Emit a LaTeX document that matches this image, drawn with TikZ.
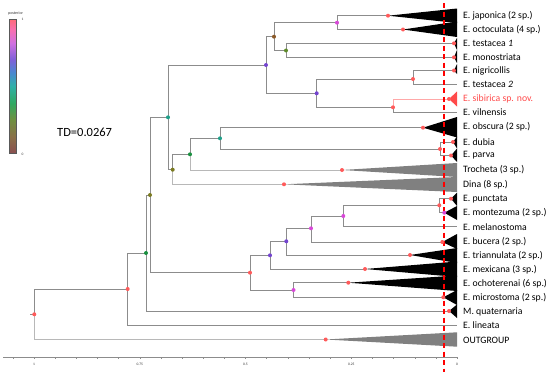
\documentclass[tikz,border=0pt]{standalone}
\usepackage{fontspec}
\setmainfont{Carlito}
\definecolor{pRed}{HTML}{FF5A5A}
\definecolor{pMag}{HTML}{D848D8}
\definecolor{pPur}{HTML}{7444D0}
\definecolor{pBrn}{HTML}{8B5A28}
\definecolor{pOlv}{HTML}{7A7A20}
\definecolor{pOlg}{HTML}{5E8A2A}
\definecolor{pTeal}{HTML}{1FA08A}
\definecolor{pGrn}{HTML}{1A9040}
\definecolor{brGray}{HTML}{8C8C8C}
\definecolor{brLight}{HTML}{B8B8B8}
\definecolor{sibRed}{HTML}{FF4A4A}
\definecolor{sibLine}{HTML}{FFA8A8}
\definecolor{cladeGray}{HTML}{808080}
\definecolor{cbA}{HTML}{8A5050}
\definecolor{cbB}{HTML}{8A7048}
\definecolor{cbC}{HTML}{6E9040}
\definecolor{cbD}{HTML}{30A860}
\definecolor{cbE}{HTML}{30B0A8}
\definecolor{cbF}{HTML}{4A88D0}
\definecolor{cbG}{HTML}{8060D8}
\definecolor{cbH}{HTML}{D070E0}
\definecolor{cbI}{HTML}{F870B0}
\definecolor{cbJ}{HTML}{FF6A78}
\pgfdeclareverticalshading{postshade}{100bp}{color(0bp)=(cbA); color(25bp)=(cbA); color(31bp)=(cbB); color(37.5bp)=(cbC); color(43.5bp)=(cbD); color(50bp)=(cbE); color(55bp)=(cbF); color(60bp)=(cbG); color(66bp)=(cbH); color(71bp)=(cbI); color(75bp)=(cbJ); color(100bp)=(cbJ)}
\tikzset{
  br/.style={draw=brGray, line width=0.9pt},
  brl/.style={draw=brLight, line width=0.9pt},
  lbl/.style={anchor=west, inner sep=0pt, font=\fontsize{9.75}{11}\selectfont},
  tinytxt/.style={inner sep=0pt, font=\fontsize{3.6}{4}\selectfont, text=black!80},
}
\begin{document}
\begin{tikzpicture}[x=1pt,y=-1pt]
\useasboundingbox (0,0) rectangle (550,372);
% coordinates of tree nodes
\coordinate (stem) at (30,314.3);
\coordinate (n1) at (34.3,314.3);
\coordinate (n2) at (127.7,289);
\coordinate (out) at (325.7,339.5);
\coordinate (n3) at (146,253);
\coordinate (lin) at (457,325);
\coordinate (n4) at (150,195);
\coordinate (quat) at (449,311);
\coordinate (n5) at (168,117.3);
\coordinate (n6) at (250,272.7);
\coordinate (n7) at (266,65);
\coordinate (n8) at (172.7,169.7);
\coordinate (n9) at (274,36.7);
\coordinate (n10) at (316.7,93.3);
\coordinate (n11) at (337,22.7);
\coordinate (n12) at (286,50.5);
\coordinate (jap) at (388,15.7);
\coordinate (oct) at (403,29.5);
\coordinate (tesa) at (454,43.3);
\coordinate (mono) at (454,57.3);
\coordinate (n13) at (413,79);
\coordinate (n14) at (393,107.3);
\coordinate (nig) at (454,70.5);
\coordinate (tesb) at (457,84);
\coordinate (sib) at (449,99);
\coordinate (vil) at (457,112.3);
\coordinate (n15) at (190,154.3);
\coordinate (dina) at (284,184.3);
\coordinate (n16) at (220,138.3);
\coordinate (troch) at (342,170);
\coordinate (obs) at (423,127.7);
\coordinate (n17) at (440,149);
\coordinate (dub) at (453,142);
\coordinate (par) at (451,155.5);
\coordinate (n18) at (270,255.3);
\coordinate (n19) at (293.5,290);
\coordinate (n20) at (286.3,241.3);
\coordinate (mex) at (365,269);
\coordinate (n21) at (311,228.3);
\coordinate (tri) at (410,255);
\coordinate (n22) at (343.3,216);
\coordinate (buc) at (442.3,242);
\coordinate (n23) at (439.3,205.3);
\coordinate (mel) at (457,226.7);
\coordinate (pun) at (451,198.7);
\coordinate (mon) at (444.3,212.7);
\coordinate (och) at (348.3,282.7);
\coordinate (mic) at (443.3,297.3);
% branches
\draw[br] (stem) -- (n1);
\foreach \p/\c in {n1/n2, n2/n3, n2/lin, n3/n4, n3/quat, n4/n5, n4/n6,
  n5/n7, n5/n8, n7/n9, n7/n10, n9/n11, n9/n12, n11/jap, n11/oct,
  n12/tesa, n12/mono, n10/n13, n10/n14, n13/nig, n13/tesb, n14/vil,
  n8/n15, n15/n16, n16/obs, n16/n17, n17/dub, n17/par,
  n6/n18, n6/n19, n18/n20, n18/mex, n20/n21, n20/tri, n21/n22, n21/buc,
  n22/n23, n22/mel, n23/pun, n23/mon, n19/och, n19/mic}
  \draw[br] (\p) |- (\c);
\foreach \p/\c in {n1/out, n8/dina, n15/troch}
  \draw[brl] (\p) |- (\c);
\draw[draw=sibLine, line width=0.9pt] (n14) |- (sib);
% collapsed clades
\fill[black] (jap) -- (457,8.5) -- (457,23) -- cycle;
\fill[black] (oct) -- (457,21.5) -- (457,37) -- cycle;
\fill[black] (tesa) -- (457,38) -- (457,50) -- cycle;
\fill[black] (mono) -- (457,50) -- (457,63) -- cycle;
\fill[black] (nig) -- (457,64) -- (457,74) -- cycle;
\fill[sibRed] (sib) -- (457,91.5) -- (457,106.5) -- cycle;
\fill[black] (obs) -- (457,117) -- (457,137.5) -- cycle;
\fill[black] (dub) -- (457,136.5) -- (457,148.5) -- cycle;
\fill[black] (par) -- (457,148.5) -- (457,162) -- cycle;
\fill[cladeGray] (troch) -- (457,163) -- (457,177) -- cycle;
\fill[cladeGray] (dina) -- (457,177) -- (457,192) -- cycle;
\fill[black] (pun) -- (457,192.5) -- (457,206) -- cycle;
\fill[black] (mon) -- (457,206) -- (457,220) -- cycle;
\fill[black] (buc) -- (457,234) -- (457,249) -- cycle;
\fill[black] (tri) -- (457,248) -- (457,263) -- cycle;
\fill[black] (mex) -- (457,261.5) -- (457,277) -- cycle;
\fill[black] (och) -- (457,275.5) -- (457,291) -- cycle;
\fill[black] (mic) -- (457,290) -- (457,305) -- cycle;
\fill[black] (quat) -- (457,304.5) -- (457,318) -- cycle;
\fill[cladeGray] (out) -- (457,332.3) -- (457,346.7) -- cycle;
% dashed threshold line
\coordinate (dtop) at (444,3);
\coordinate (dbot) at (444,372);
\draw[red, line width=1.4pt, dash pattern=on 5pt off 3.5pt] (dtop) -- (dbot);
% posterior dots
\foreach \n/\c in {n1/pRed, n2/pRed, out/pRed, n3/pGrn, quat/pRed, n4/pOlv,
  n5/pTeal, n6/pRed, n7/pPur, n8/pOlv, n9/pBrn, n10/pPur, n11/pMag, n12/pOlg,
  jap/pRed, oct/pRed, tesa/pRed, mono/pRed, n13/pRed, n14/pRed, nig/pRed,
  sib/pRed, n15/pGrn, dina/pRed, n16/pTeal, troch/pRed, obs/pRed, n17/pRed,
  dub/pRed, par/pRed, n18/pPur, n19/pMag, n20/pPur, mex/pRed, n21/pMag,
  tri/pRed, n22/pMag, buc/pRed, n23/pRed, pun/pRed, mon/pMag, och/pRed, mic/pRed}
  \fill[\c] (\n) circle[radius=2pt];
% labels
\node[lbl] (Ljap) at (463,16) {E. japonica (2 sp.)};
\node[lbl] (Loct) at (463,30) {E. octoculata (4 sp.)};
\node[lbl] (Ltesa) at (463,43.5) {E. testacea \textit{1}};
\node[lbl] (Lmono) at (463,57.5) {E. monostriata};
\node[lbl] (Lnig) at (463,71) {E. nigricollis};
\node[lbl] (Ltesb) at (463,84) {E. testacea \textit{2}};
\node[lbl, text=sibRed] (Lsib) at (463,98.5) {E. sibirica sp. nov.};
\node[lbl] (Lvil) at (463,112.3) {E. vilnensis};
\node[lbl] (Lobs) at (463,127) {E. obscura (2 sp.)};
\node[lbl] (Ldub) at (463,142) {E. dubia};
\node[lbl] (Lpar) at (463,155.5) {E. parva};
\node[lbl] (Ltro) at (463,170) {Trocheta (3 sp.)};
\node[lbl] (Ldin) at (463,184.3) {Dina (8 sp.)};
\node[lbl] (Lpun) at (463,199) {E. punctata};
\node[lbl] (Lmon) at (463,213) {E. montezuma (2 sp.)};
\node[lbl] (Lmel) at (463,227) {E. melanostoma};
\node[lbl] (Lbuc) at (463,242) {E. bucera (2 sp.)};
\node[lbl] (Ltri) at (463,256) {E. triannulata (2 sp.)};
\node[lbl] (Lmex) at (463,270) {E. mexicana (3 sp.)};
\node[lbl] (Loch) at (463,283.5) {E. ochoterenai (6 sp.)};
\node[lbl] (Lmic) at (463,298) {E. microstoma (2 sp.)};
\node[lbl] (Lqua) at (463,312) {M. quaternaria};
\node[lbl] (Llin) at (463,325) {E. lineata};
\node[lbl] (Lout) at (463,340) {OUTGROUP};
\node[anchor=west, inner sep=0pt, font=\fontsize{12.5}{14}\selectfont] (TD) at (57,132) {TD=0.0267};
% axis
\draw[brGray, line width=0.6pt] (3,357) -- (457,357);
\foreach \i in {0,...,21}
  \draw[brGray, line width=0.4pt] ({457-21.15*\i},357) -- ++(0,1.6);
\foreach \t/\l in {0/0, 0.25/0.25, 0.5/0.5, 0.75/0.75, 1/1}
  \node[tinytxt] at ({457-423*\t},364) {\l};
% colour bar
\shade[shading=postshade] (9,19) rectangle (16,153);
\draw[black!65, line width=0.5pt] (9,19) rectangle (16,153);
\node[tinytxt, anchor=west, font=\fontsize{4}{5}\selectfont] (post) at (8,13) {posterior};
\node[tinytxt, anchor=west] (cb1) at (21.5,19) {1};
\node[tinytxt, anchor=west] (cb0) at (21.5,154) {0};
\end{tikzpicture}
\end{document}
